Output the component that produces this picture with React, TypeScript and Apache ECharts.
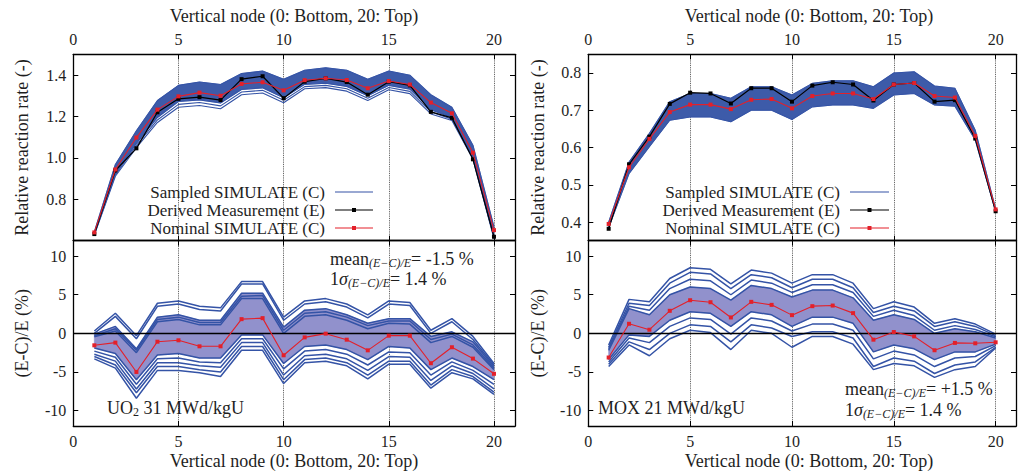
import React, { useEffect, useRef } from "react";
import * as echarts from "echarts";

// ---------- data ----------
const nodes = [1, 2, 3, 4, 5, 6, 7, 8, 9, 10, 11, 12, 13, 14, 15, 16, 17, 18, 19, 20];
const xTicks = [0, 5, 10, 15, 20];

// UO2 31 MWd/kgU — upper (relative reaction rate)
const uo2Measured = [0.632, 0.939, 1.046, 1.22, 1.285, 1.293, 1.279, 1.38, 1.394, 1.288, 1.368, 1.384, 1.366, 1.305, 1.368, 1.35, 1.222, 1.193, 0.993, 0.619];
const uo2Nominal = [0.64, 0.944, 1.098, 1.233, 1.297, 1.315, 1.3, 1.357, 1.365, 1.326, 1.375, 1.384, 1.376, 1.336, 1.371, 1.354, 1.267, 1.215, 1.025, 0.651];
const uo2SampHi = [0.643, 0.968, 1.131, 1.277, 1.35, 1.366, 1.354, 1.407, 1.419, 1.38, 1.423, 1.435, 1.423, 1.38, 1.419, 1.399, 1.305, 1.244, 1.061, 0.667];
const uo2SampDenseLo = [0.632, 0.925, 1.07, 1.195, 1.272, 1.28, 1.265, 1.33, 1.338, 1.29, 1.355, 1.36, 1.345, 1.3, 1.35, 1.332, 1.232, 1.195, 1.005, 0.62];
const uo2SampMid = [0.63, 0.918, 1.06, 1.183, 1.258, 1.267, 1.251, 1.318, 1.326, 1.278, 1.344, 1.35, 1.334, 1.288, 1.34, 1.321, 1.222, 1.187, 0.999, 0.615];
const uo2SampLo = [0.627, 0.911, 1.049, 1.171, 1.244, 1.253, 1.237, 1.305, 1.313, 1.266, 1.334, 1.339, 1.322, 1.277, 1.329, 1.31, 1.212, 1.18, 0.993, 0.61];

// UO2 — lower ((E-C)/E %)
const uo2DiffNominal = [-1.55, -1.2, -5.0, -1.08, -0.9, -1.68, -1.68, 1.84, 1.97, -2.84, -0.52, -0.04, -0.82, -2.2, -0.3, -0.3, -3.87, -1.8, -3.27, -5.24];
const uo2DiffSamples = [
  [0.3, 2.6, -0.3, 3.9, 4.2, 3.5, 3.3, 6.7, 6.7, 2.1, 4.2, 4.5, 3.8, 2.4, 4.2, 4.0, 0.4, 1.9, -0.4, -3.9],
  [0.0, 2.2, -0.7, 3.5, 3.8, 3.1, 2.9, 6.4, 6.4, 1.7, 3.8, 4.1, 3.4, 2.0, 3.8, 3.6, 0.0, 1.5, -0.8, -4.1],
  [-0.1, 0.9, -2.0, 2.1, 2.4, 1.7, 1.7, 5.2, 5.2, 0.8, 3.0, 3.2, 2.4, 1.3, 1.9, 1.9, -0.4, 0.2, -1.1, -4.3],
  [-0.3, 0.6, -2.2, 1.8, 2.1, 1.4, 1.4, 4.8, 4.9, 0.4, 2.6, 2.8, 2.1, 1.0, 1.6, 1.6, -0.8, -0.1, -1.5, -4.5],
  [-0.45, 0.3, -2.5, 1.5, 1.8, 1.1, 1.1, 4.5, 4.5, 0.0, 2.2, 2.4, 1.7, 0.6, 1.3, 1.2, -1.2, -0.4, -1.8, -4.7],
  [-1.9, -2.6, -6.0, -2.8, -2.6, -3.2, -3.2, -0.2, -0.2, -3.9, -1.7, -1.5, -2.1, -3.4, -1.7, -1.9, -4.7, -3.2, -4.3, -6.0],
  [-2.3, -3.1, -6.6, -3.3, -3.2, -3.7, -3.8, -0.7, -0.7, -4.6, -2.3, -2.1, -2.7, -4.1, -2.4, -2.5, -5.4, -3.7, -4.8, -6.6],
  [-2.7, -3.6, -7.2, -3.8, -3.8, -4.2, -4.4, -1.2, -1.2, -5.4, -2.9, -2.7, -3.3, -4.8, -3.0, -3.1, -6.1, -4.2, -5.2, -7.2],
  [-3.0, -4.1, -7.7, -4.3, -4.3, -4.7, -5.0, -1.7, -1.7, -6.0, -3.4, -3.2, -3.8, -5.4, -3.6, -3.6, -6.7, -4.7, -5.6, -7.6],
  [-3.3, -4.5, -8.4, -4.8, -4.8, -5.1, -5.6, -2.2, -2.2, -6.5, -3.8, -3.6, -4.2, -5.9, -4.0, -4.0, -7.1, -5.1, -5.9, -7.9],
];
const uo2BandTop = [-0.1, 0.9, -2.0, 2.1, 2.4, 1.7, 1.7, 5.2, 5.2, 0.8, 3.0, 3.2, 2.4, 1.3, 1.9, 1.9, -0.4, 0.2, -1.1, -4.3];
const uo2BandBottom = [-1.9, -2.6, -6.0, -2.8, -2.6, -3.2, -3.2, -0.2, -0.2, -3.9, -1.7, -1.5, -2.1, -3.4, -1.7, -1.9, -4.7, -3.2, -4.3, -6.0];

// MOX 21 MWd/kgU — upper
const moxMeasured = [0.382, 0.555, 0.629, 0.717, 0.747, 0.745, 0.718, 0.759, 0.759, 0.723, 0.766, 0.775, 0.769, 0.726, 0.769, 0.773, 0.723, 0.727, 0.624, 0.429];
const moxNominal = [0.395, 0.547, 0.623, 0.695, 0.715, 0.715, 0.703, 0.728, 0.73, 0.705, 0.738, 0.745, 0.745, 0.73, 0.769, 0.773, 0.738, 0.734, 0.631, 0.434];
const moxSampHi = [0.4, 0.561, 0.638, 0.723, 0.745, 0.745, 0.732, 0.763, 0.763, 0.741, 0.772, 0.779, 0.779, 0.763, 0.8, 0.803, 0.765, 0.759, 0.646, 0.435];
const moxSampLo = [0.385, 0.53, 0.602, 0.673, 0.682, 0.682, 0.669, 0.7, 0.7, 0.675, 0.709, 0.714, 0.714, 0.705, 0.741, 0.745, 0.714, 0.711, 0.62, 0.428];

// MOX — lower
const moxDiffNominal = [-3.13, 1.24, 0.47, 2.92, 4.29, 4.03, 2.06, 4.08, 3.69, 2.36, 3.52, 3.6, 2.62, -0.82, 0.17, -0.39, -2.19, -1.24, -1.29, -1.16];
const moxDiffSamples = [
  [-1.5, 4.4, 4.1, 7.1, 8.5, 8.3, 6.4, 8.2, 7.8, 6.5, 7.6, 7.6, 6.5, 3.2, 4.1, 3.4, 1.3, 1.9, 1.2, -0.1],
  [-1.8, 3.9, 3.6, 6.5, 7.9, 7.7, 5.8, 7.6, 7.2, 5.9, 7.0, 7.0, 5.9, 2.7, 3.5, 2.9, 0.9, 1.5, 0.9, -0.3],
  [-2.0, 3.5, 3.0, 5.8, 7.0, 6.8, 5.0, 6.9, 6.5, 5.3, 6.3, 6.3, 5.3, 2.2, 3.0, 2.3, 0.4, 1.0, 0.5, -0.45],
  [-2.2, 3.2, 2.4, 5.0, 6.0, 5.8, 4.3, 6.2, 5.8, 4.7, 5.6, 5.6, 4.6, 1.7, 2.4, 1.8, 0.0, 0.6, 0.2, -0.6],
  [-3.4, -0.2, -0.4, 1.7, 2.8, 2.6, 0.9, 2.8, 2.4, 0.9, 2.1, 2.1, 1.3, -2.4, -1.5, -2.0, -3.4, -2.4, -2.4, -1.4],
  [-3.7, -0.6, -1.2, 0.9, 2.0, 1.8, -0.1, 2.0, 1.6, 0.3, 1.2, 1.2, 0.4, -3.3, -2.3, -2.8, -4.3, -3.2, -3.0, -1.6],
  [-4.0, -1.1, -2.1, 0.0, 1.1, 0.9, -1.1, 1.1, 0.7, -0.4, 0.2, 0.2, -0.6, -4.3, -3.2, -3.6, -5.2, -4.1, -3.7, -1.8],
  [-4.3, -1.5, -2.9, -0.7, 0.4, 0.1, -2.1, 0.4, 0.0, -1.8, -0.4, -0.4, -1.4, -4.7, -3.9, -4.2, -5.7, -4.7, -4.3, -1.9],
];
const moxBandTop = [-2.2, 3.2, 2.4, 5.0, 6.0, 5.8, 4.3, 6.2, 5.8, 4.7, 5.6, 5.6, 4.6, 1.7, 2.4, 1.8, 0.0, 0.6, 0.2, -0.6];
const moxBandBottom = [-3.4, -0.2, -0.4, 1.7, 2.8, 2.6, 0.9, 2.8, 2.4, 0.9, 2.1, 2.1, 1.3, -2.4, -1.5, -2.0, -3.4, -2.4, -2.4, -1.4];

const uo2RateTicks = [0.8, 1.0, 1.2, 1.4];
const moxRateTicks = [0.4, 0.5, 0.6, 0.7, 0.8];
const diffTicks = [-10, -5, 0, 5, 10];

const legendNames = ["Sampled SIMULATE (C)", "Derived Measurement (E)", "Nominal SIMULATE (C)"];

// ---------- styles ----------
const FONT = "'Liberation Serif', 'DejaVu Serif', serif";
const TXT = "#1e1e1e";
const BLUE = "#3453a6";
const BAND_UP = "#3d5ba9";
const BAND_LOW = "#9191cc";
const RED = "#e3202a";

const G = {
  lu: { left: 73.3, top: 54.3, width: 441.7, height: 186.4 },
  ll: { left: 73.3, top: 240.7, width: 441.7, height: 185.3 },
  ru: { left: 588.3, top: 54.3, width: 442.5, height: 186.4 },
  rl: { left: 588.3, top: 240.7, width: 442.5, height: 185.3 },
};

function xAxis(gridIndex: number, position: string, labels: boolean, split: boolean) {
  return {
    type: "value",
    gridIndex,
    position,
    min: 0,
    max: 21,
    interval: 5,
    axisLine: { show: true, onZero: false, lineStyle: { color: "#000", width: 1.3 } },
    axisTick: { show: true, inside: true, length: 5, lineStyle: { color: "#000", width: 1 } },
    axisLabel: {
      show: labels,
      margin: 7,
      fontFamily: FONT,
      fontSize: 16,
      color: TXT,
      formatter: (v: number) => (xTicks.indexOf(v) >= 0 ? String(v) : ""),
    },
    splitLine: { show: split, lineStyle: { type: "dotted", color: "#444", width: 0.9 } },
  };
}

function yAxis(gridIndex: number, position: string, labels: boolean, min: number, max: number, ticks: number[], digits: number) {
  return {
    type: "value",
    gridIndex,
    position,
    min,
    max,
    axisLine: { show: true, onZero: false, lineStyle: { color: "#000", width: 1.3 } },
    axisTick: { show: true, inside: true, length: 5, customValues: ticks, lineStyle: { color: "#000", width: 1 } },
    axisLabel: {
      show: labels,
      customValues: ticks,
      margin: 7,
      fontFamily: FONT,
      fontSize: 16,
      color: TXT,
      formatter: (v: number) => v.toFixed(digits),
    },
    splitLine: { show: false },
  };
}

function lineSeries(name: string, xi: number, yi: number, ys: number[], color: string, width: number, symbol: boolean, z: number, extra: any = {}) {
  return {
    type: "line",
    name,
    xAxisIndex: xi,
    yAxisIndex: yi,
    data: nodes.map((n, i) => [n, ys[i]]),
    symbol: symbol ? "rect" : "none",
    showSymbol: symbol,
    symbolSize: 4,
    lineStyle: { color, width },
    itemStyle: { color },
    silent: true,
    z,
    ...extra,
  };
}

function bandSeries(xi: number, yi: number, lo: number[], hi: number[], color: string) {
  return {
    type: "custom",
    name: "band",
    xAxisIndex: xi,
    yAxisIndex: yi,
    silent: true,
    z: 1,
    data: nodes.map((n, i) => [n, lo[i], hi[i]]),
    encode: { x: 0, y: [1, 2] },
    renderItem: (params: any, api: any) => {
      if (params.dataIndex !== 0) return null;
      const pts: number[][] = [];
      nodes.forEach((n, i) => pts.push(api.coord([n, hi[i]])));
      for (let i = nodes.length - 1; i >= 0; i--) pts.push(api.coord([nodes[i], lo[i]]));
      return { type: "polygon", shape: { points: pts }, style: { fill: color, stroke: color, lineWidth: 0.6 } };
    },
  };
}

const zeroLine = {
  silent: true,
  symbol: ["none", "none"],
  label: { show: false },
  lineStyle: { color: "#000", type: "solid", width: 1.3 },
  data: [{ yAxis: 0 }],
};

function txt(x: number, y: number, text: string, opts: any = {}) {
  return {
    type: "text",
    x,
    y,
    rotation: opts.rotation || 0,
    silent: true,
    z: 50,
    style: {
      text,
      fill: TXT,
      fontSize: opts.size || 18,
      fontFamily: FONT,
      align: opts.align || "center",
      verticalAlign: "middle",
      rich: opts.rich,
    },
  };
}

function legendGraphics(textRight: number, lineX1: number, lineX2: number, rows: number[]) {
  const colors = [BLUE, "#000", RED];
  const els: any[] = [];
  legendNames.forEach((name, i) => {
    els.push(txt(textRight, rows[i], name, { align: "right", size: 17 }));
    els.push({
      type: "line",
      silent: true,
      z: 50,
      shape: { x1: lineX1, y1: rows[i], x2: lineX2, y2: rows[i] },
      style: { stroke: colors[i], lineWidth: 1.2 },
    });
    if (i > 0) {
      const cx = (lineX1 + lineX2) / 2;
      els.push({
        type: "rect",
        silent: true,
        z: 51,
        shape: { x: cx - 2, y: rows[i] - 2, width: 4, height: 4 },
        style: { fill: colors[i] },
      });
    }
  });
  return els;
}

const richStyles = {
  a: { fontSize: 18, fontFamily: FONT, fill: TXT, lineHeight: 20 },
  i: { fontSize: 18, fontFamily: FONT, fill: TXT, fontStyle: "italic", lineHeight: 20 },
  s: { fontSize: 12, fontFamily: FONT, fill: TXT, fontStyle: "italic", verticalAlign: "bottom", lineHeight: 12 },
  t: { fontSize: 12, fontFamily: FONT, fill: TXT, verticalAlign: "bottom", lineHeight: 12 },
};

export default function App() {
  const ref = useRef<HTMLDivElement>(null);
  useEffect(() => {
    if (!ref.current) return;
    const chart = echarts.init(ref.current, undefined, { renderer: "svg" });
    const S = legendNames[0];
    const series: any[] = [];
    // left upper
    series.push(bandSeries(0, 0, uo2SampDenseLo, uo2SampHi, BAND_UP));
    [uo2SampHi, uo2SampDenseLo, uo2SampMid, uo2SampLo].forEach((s) => series.push(lineSeries(S, 0, 0, s, BLUE, 1.1, false, 2)));
    series.push(lineSeries(legendNames[1], 0, 0, uo2Measured, "#000", 1.2, true, 5));
    series.push(lineSeries(legendNames[2], 0, 0, uo2Nominal, RED, 1.1, true, 6));
    // left lower
    series.push(bandSeries(2, 2, uo2BandBottom, uo2BandTop, BAND_LOW));
    uo2DiffSamples.forEach((s) => series.push(lineSeries(S, 2, 2, s, BLUE, 1.5, false, 2)));
    series.push(lineSeries(legendNames[2], 2, 2, uo2DiffNominal, RED, 1.1, true, 6, { markLine: zeroLine }));
    // right upper
    series.push(bandSeries(4, 4, moxSampLo, moxSampHi, BAND_UP));
    [moxSampHi, moxSampLo].forEach((s) => series.push(lineSeries(S, 4, 4, s, BLUE, 1.1, false, 2)));
    series.push(lineSeries(legendNames[1], 4, 4, moxMeasured, "#000", 1.2, true, 5));
    series.push(lineSeries(legendNames[2], 4, 4, moxNominal, RED, 1.1, true, 6));
    // right lower
    series.push(bandSeries(6, 6, moxBandBottom, moxBandTop, BAND_LOW));
    moxDiffSamples.forEach((s) => series.push(lineSeries(S, 6, 6, s, BLUE, 1.5, false, 2)));
    series.push(lineSeries(legendNames[2], 6, 6, moxDiffNominal, RED, 1.1, true, 6, { markLine: zeroLine }));

    const legendRows = [192, 210, 228];
    const option: any = {
      animation: false,
      backgroundColor: "#fff",
      grid: [G.lu, G.ll, G.ru, G.rl].map((g) => ({ ...g, containLabel: false })),
      xAxis: [
        xAxis(0, "top", true, true),
        xAxis(0, "bottom", false, false),
        xAxis(1, "bottom", true, true),
        xAxis(1, "top", false, false),
        xAxis(2, "top", true, true),
        xAxis(2, "bottom", false, false),
        xAxis(3, "bottom", true, true),
        xAxis(3, "top", false, false),
      ],
      yAxis: [
        yAxis(0, "left", true, 0.6, 1.5, uo2RateTicks, 1),
        yAxis(0, "right", false, 0.6, 1.5, uo2RateTicks, 1),
        yAxis(1, "left", true, -12, 12, diffTicks, 0),
        yAxis(1, "right", false, -12, 12, diffTicks, 0),
        yAxis(2, "left", true, 0.35, 0.85, moxRateTicks, 1),
        yAxis(2, "right", false, 0.35, 0.85, moxRateTicks, 1),
        yAxis(3, "left", true, -12, 12, diffTicks, 0),
        yAxis(3, "right", false, -12, 12, diffTicks, 0),
      ],
      graphic: [
        txt(294, 16, "Vertical node (0: Bottom, 20: Top)"),
        txt(809, 16, "Vertical node (0: Bottom, 20: Top)"),
        txt(294, 461, "Vertical node (0: Bottom, 20: Top)"),
        txt(809, 461, "Vertical node (0: Bottom, 20: Top)"),
        txt(22, 147.5, "Relative reaction rate (-)", { rotation: Math.PI / 2 }),
        txt(22, 333.3, "(E-C)/E (%)", { rotation: Math.PI / 2 }),
        txt(538, 147.5, "Relative reaction rate (-)", { rotation: Math.PI / 2 }),
        txt(538, 333.3, "(E-C)/E (%)", { rotation: Math.PI / 2 }),
        txt(330, 259, "{a|mean}{s|(E−C)/E}{a|= -1.5 %}", { align: "left", rich: richStyles }),
        txt(330, 279, "{a|1}{i|σ}{s|(E−C)/E}{a|= 1.4 %}", { align: "left", rich: richStyles }),
        txt(845, 389, "{a|mean}{s|(E−C)/E}{a|= +1.5 %}", { align: "left", rich: richStyles }),
        txt(845, 410, "{a|1}{i|σ}{s|(E−C)/E}{a|= 1.4 %}", { align: "left", rich: richStyles }),
        txt(107, 408, "{a|UO}{t|2}{a| 31 MWd/kgU}", { align: "left", rich: richStyles }),
        txt(598, 408, "{a|MOX 21 MWd/kgU}", { align: "left", rich: richStyles }),
        ...legendGraphics(325, 335, 373, legendRows),
        ...legendGraphics(840, 850, 889, legendRows),
      ],
      series,
    };
    chart.setOption(option);
    return () => chart.dispose();
  }, []);
  return <div ref={ref} style={{ position: "absolute", left: 0, top: 0, width: 1019, height: 471 }} />;
}
